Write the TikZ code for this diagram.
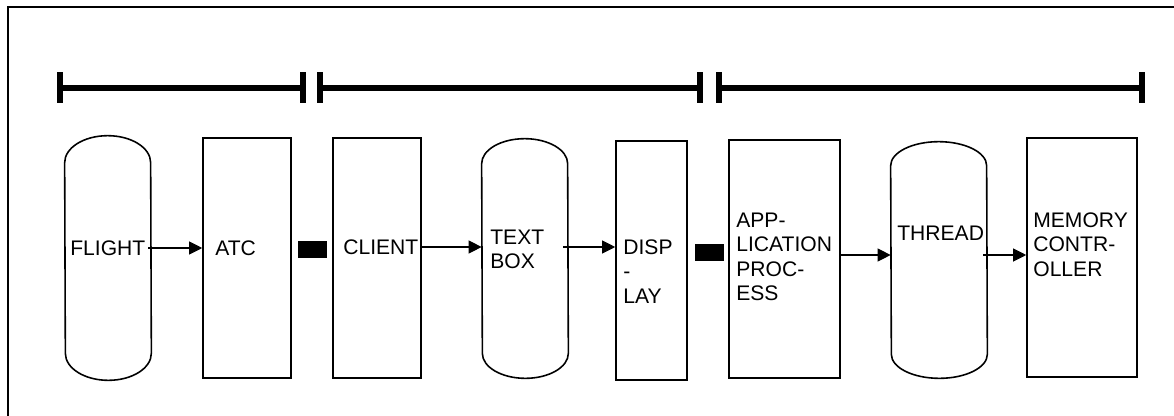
\documentclass[tikz,border=0pt]{standalone}
\usepackage{fontspec}
\setmainfont{Liberation Sans}
\usetikzlibrary{calc,arrows.meta}
\begin{document}
\begin{tikzpicture}[x=0.02cm, y=0.02cm,
        box/.style={draw, line width=0.9pt, inner sep=0, minimum height=4.8cm},
        capsule/.style={inner sep=0},
        txt/.style={inner sep=0, align=left, font=\fontsize{12}{13.9}\selectfont},
        arr/.style={line width=0.6pt, -{Triangle[length=7.4pt,width=7.4pt]}},
        span/.style={line width=3.3pt},
        tick/.style={line width=3.4pt},
        sep/.style={fill, inner sep=0, minimum width=0.58cm, minimum height=0.34cm}]
            \useasboundingbox (0,0) rectangle (1174,-416);
            \draw[line width=1.1pt] (8,-416) -- (8,-7) -- (1174,-7);
            % spans
            \foreach \a/\b in {60/303, 320/700, 719/1142}{
                \draw[span] (\a,-88) -- (\b,-88);
                \draw[tick] (\a,-72) -- (\a,-103);
                \draw[tick] (\b,-72) -- (\b,-103);
            }
            % blocks
            \node[capsule, minimum width=1.72cm, minimum height=4.88cm] (flight) at (108,-258) {};
            \node[box, minimum width=1.76cm] (atc) at (247,-258) {};
            \node[sep] (sep1) at (312.5,-249.5) {};
            \node[box, minimum width=1.76cm] (client) at (377,-258) {};
            \node[capsule, minimum width=1.72cm, minimum height=4.78cm] (textbox) at (525,-258.5) {};
            \node[box, minimum width=1.42cm, minimum height=4.78cm] (disp) at (651.5,-260.5) {};
            \node[sep] (sep2) at (709.5,-252.5) {};
            \node[box, minimum width=2.22cm, minimum height=4.76cm] (app) at (784.5,-259) {};
            \node[capsule, minimum width=1.92cm, minimum height=4.72cm] (thread) at (939,-260) {};
            \node[box, minimum width=2.2cm, minimum height=4.78cm] (memory) at (1082,-257.5) {};
            \foreach \n/\r/\h in {flight/43/27, textbox/43/25, thread/48/24}{
                \draw[line width=0.9pt] ($(\n.north west)+(0,-\h)$)
                    arc[start angle=180, end angle=0, x radius=\r, y radius=\h]
                    -- ($(\n.south east)+(0,\h)$)
                    arc[start angle=0, end angle=-180, x radius=\r, y radius=\h] -- cycle;
            }
            % labels
            \node[txt, anchor=west] (flight-t) at (70,-248) {FLIGHT};
            \node[txt, anchor=west] (atc-t) at (215,-248) {ATC};
            \node[txt, anchor=west] (client-t) at (343,-247) {CLIENT};
            \node[txt, anchor=north west] (textbox-t) at (490,-229.5) {TEXT\\BOX};
            \node[txt, anchor=north west] (disp-t) at (623,-239.5) {DISP\\-\\LAY};
            \node[txt, anchor=north west] (app-t) at (736,-212.5) {APP-\\LICATION\\PROC-\\ESS};
            \node[txt, anchor=west] (thread-t) at (897,-233) {THREAD};
            \node[txt, anchor=north west] (memory-t) at (1033,-212.5) {MEMORY\\CONTR-\\OLLER};
            % flow
            \draw[arr] ($(flight.east)+(-3,10)$) coordinate (a1) -- (a1 -| atc.west);
            \draw[arr] ($(client.east)+(0,11)$) coordinate (a2) -- (a2 -| textbox.west);
            \draw[arr] ($(textbox.east)+(-5,11.5)$) coordinate (a3) -- (a3 -| disp.west);
            \draw[arr] ($(app.east)+(0,4)$) coordinate (a4) -- (a4 -| thread.west);
            \draw[arr] ($(thread.east)+(-4,5)$) coordinate (a5) -- (a5 -| memory.west);
\end{tikzpicture}
\end{document}
